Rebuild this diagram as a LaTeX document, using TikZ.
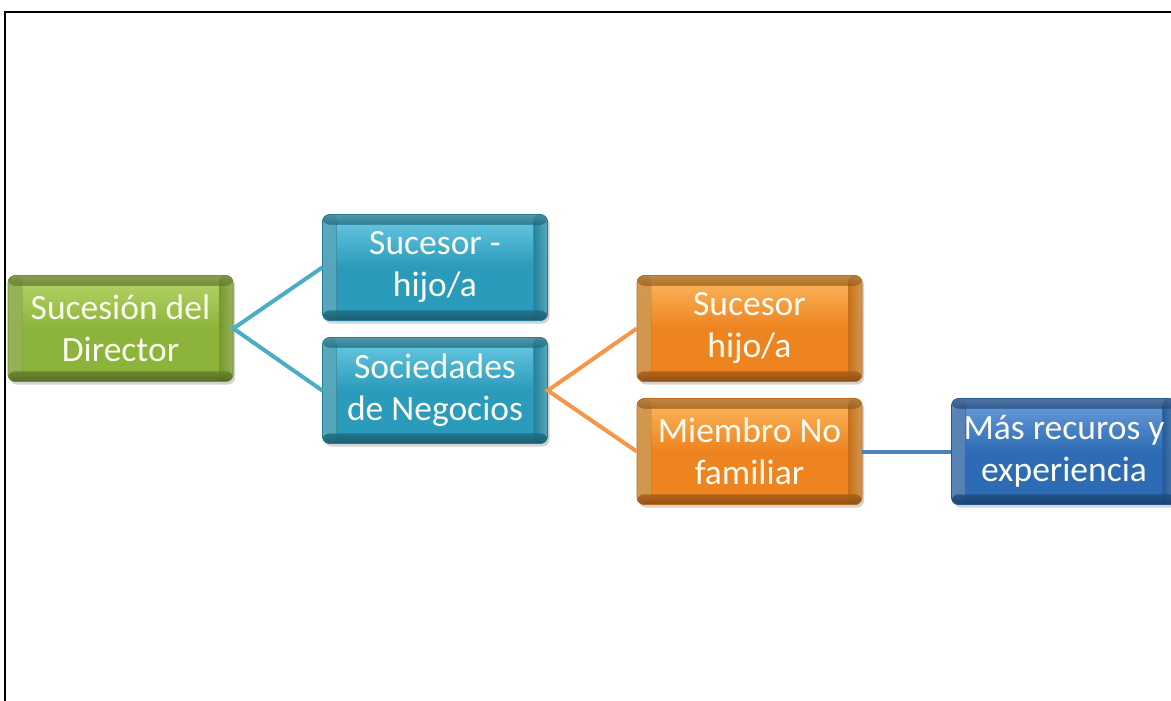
\documentclass[tikz,border=0pt]{standalone}
\usepackage{fontspec}
\setmainfont{Carlito}
\usetikzlibrary{shadows}
\definecolor{cgreen}{HTML}{8DB43A}
\definecolor{cgreenL}{HTML}{B5D66A}
\definecolor{cblue}{HTML}{2A9BBB}
\definecolor{cblueL}{HTML}{6CCBE3}
\definecolor{corange}{HTML}{EE8420}
\definecolor{corangeL}{HTML}{FBB860}
\definecolor{cdblue}{HTML}{2D6CB4}
\definecolor{cdblueL}{HTML}{6C9FDC}
\definecolor{lteal}{HTML}{4BACC6}
\definecolor{lorange}{HTML}{F79646}
\definecolor{lblue}{HTML}{4F81BD}
\definecolor{txt}{HTML}{FBFBEF}
\tikzset{
  boxbase/.style={rounded corners=7pt, minimum width=225pt, minimum height=106pt,
    inner sep=0pt, align=center, text=txt,
    font=\fontsize{35.5}{42}\selectfont,
    drop shadow={shadow xshift=2pt, shadow yshift=-3pt, opacity=0.35}},
  bevel/.style n args={2}{boxbase, draw=#1!80!black, line width=0.6pt,
    top color=#2, bottom color=#1, middle color=#1,
    path picture={
      \fill[left color=#2, right color=#1, opacity=0.8]
        (path picture bounding box.north west) rectangle ([xshift=14pt]path picture bounding box.south west);
      \fill[left color=#1, right color=#2, opacity=0.8]
        ([xshift=-14pt]path picture bounding box.north east) rectangle (path picture bounding box.south east);
      \fill[top color=#2, bottom color=#1, opacity=0.5]
        (path picture bounding box.north west) rectangle ([yshift=-10pt]path picture bounding box.north east);
      \fill[top color=#1, bottom color=#1!75!black, opacity=0.6]
        ([yshift=10pt]path picture bounding box.south west) rectangle (path picture bounding box.south east);
    }},
  greenbox/.style={bevel={cgreen}{cgreenL}},
  bluebox/.style={bevel={cblue}{cblueL}},
  orangebox/.style={bevel={corange}{corangeL}},
  dbluebox/.style={bevel={cdblue}{cdblueL}},
  conn/.style={line width=4pt}
}
\begin{document}
\begin{tikzpicture}[x=1pt,y=-1pt]
\useasboundingbox (0,0) rectangle (1171,701);
\begin{scope}
\clip (0,0) rectangle (1171,701);
\fill[white] (0,0) rectangle (1171,701);
\draw[line width=2.5pt, black] (5,701) -- (5,12) -- (1180,12);

\node[greenbox] (dir) at (120.5,328.5) {Sucesión del\\Director};
\node[bluebox] (suc1) at (435,267.5) {Sucesor -\\hijo/a};
\node[bluebox] (soc) at (435,390.5) {Sociedades\\de Negocios};
\node[orangebox] (suc2) at (749.5,328.5) {Sucesor\\hijo/a};
\node[orangebox] (miem) at (749.5,451.5) {Miembro No\\familiar};
\node[dbluebox] (mas) at (1064,451.5) {Más recuros y\\experiencia};

\draw[conn, lteal] (suc1.west) -- (dir.east) -- (soc.west);
\draw[conn, lorange] (suc2.west) -- (soc.east) -- (miem.west);
\draw[conn, lblue] (miem.east) -- (mas.west);
\end{scope}
\end{tikzpicture}
\end{document}
